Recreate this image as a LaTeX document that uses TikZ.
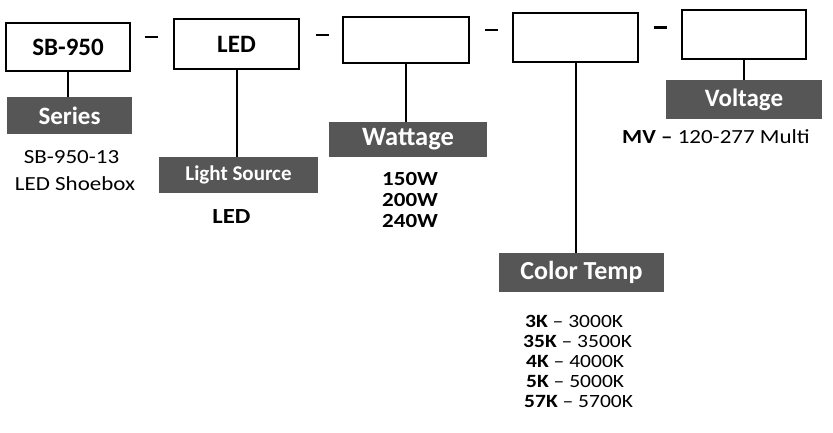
\documentclass[tikz,border=0pt]{standalone}
\usepackage{fontspec}
\setmainfont{Carlito}
\newfontfamily\widefont[FakeStretch=1.15]{Carlito}
\definecolor{lab}{RGB}{86,86,86}
\begin{document}
\begin{tikzpicture}[x=1pt,y=-1pt,
  codebox/.style={draw=black, line width=2.3pt, inner sep=0pt, font=\fontsize{25}{30}\selectfont\bfseries},
  tag/.style={fill=lab, inner sep=0pt, text=white, font=\fontsize{25}{30}\selectfont\bfseries},
  body/.style={font=\widefont\fontsize{20}{24}\selectfont, inner sep=0pt},
  bodyb/.style={font=\widefont\fontsize{20}{24}\selectfont\bfseries, inner sep=0pt},
  listtxt/.style={font=\widefont\fontsize{18.7}{22}\selectfont, inner sep=0pt},
  sepdash/.style={inner sep=0pt},
  conn/.style={line width=2pt}]
\useasboundingbox[fill=white] (0,0) rectangle (833,432);
% code boxes
\node[codebox, minimum width=124pt, minimum height=48pt] (b1) at (68,47) {SB-950};
\node[codebox, minimum width=125pt, minimum height=50pt] (b2) at (236.5,44) {LED};
\node[codebox, minimum width=126pt, minimum height=46pt] (b3) at (406,40) {};
\node[codebox, minimum width=125pt, minimum height=49pt] (b4) at (575.5,37.5) {};
\node[codebox, minimum width=124pt, minimum height=49pt] (b5) at (744,34.5) {};
% separators
\node[sepdash] (d1) at (151.5,37) {\rule{13pt}{2.8pt}};
\node[sepdash] (d2) at (322.5,35) {\rule{13pt}{2.8pt}};
\node[sepdash] (d3) at (491.5,30) {\rule{13pt}{2.8pt}};
\node[sepdash] (d4) at (660,27.5) {\rule{13pt}{2.8pt}};
% labels
\node[tag, minimum width=125pt, minimum height=37pt] (l1) at (69.5,115.5) {Series};
\node[tag, minimum width=159pt, minimum height=36pt, font=\fontsize{21}{25}\selectfont\bfseries] (l2) at (238.5,175) {Light Source};
\node[tag, minimum width=158pt, minimum height=35pt, font=\fontsize{26.5}{30}\selectfont\bfseries] (l3) at (408,139.5) {Wattage};
\node[tag, minimum width=165pt, minimum height=39pt, font=\fontsize{26}{30}\selectfont\bfseries] (l4) at (581.5,272.5) {Color Temp};
\node[tag, minimum width=156pt, minimum height=39pt] (l5) at (744,99.5) {Voltage};
% connectors
\draw[conn] (b1.south) -- (b1.south |- l1.north);
\draw[conn] (b2.south) -- (b2.south |- l2.north);
\draw[conn] (b3.south) -- (b3.south |- l3.north);
\draw[conn] (b4.south) -- (b4.south |- l4.north);
\draw[conn] (b5.south) -- (b5.south |- l5.north);
% option texts
\node[body, anchor=base] (t1a) at (71.5,163) {SB-950-13};
\node[body, anchor=base] (t1b) at (75,190) {LED Shoebox};
\node[bodyb, anchor=base, font=\widefont\fontsize{21.5}{26}\selectfont\bfseries] (t2) at (231.5,223) {LED};
\node[bodyb, anchor=base west] (t3a) at (382,185) {150W};
\node[bodyb, anchor=base west] (t3b) at (382,206) {200W};
\node[bodyb, anchor=base west] (t3c) at (382,227) {240W};
\node[listtxt, anchor=base west] (t4a) at (525,327) {\textbf{3K} – 3000K};
\node[listtxt, anchor=base west] (t4b) at (523,347) {\textbf{35K} – 3500K};
\node[listtxt, anchor=base west] (t4c) at (526,367) {\textbf{4K} – 4000K};
\node[listtxt, anchor=base west] (t4d) at (526,387) {\textbf{5K} – 5000K};
\node[listtxt, anchor=base west] (t4e) at (524,407) {\textbf{57K} – 5700K};
\node[body, anchor=base west] (t5) at (622,143) {\textbf{MV –} 120-277 Multi};
\end{tikzpicture}
\end{document}
